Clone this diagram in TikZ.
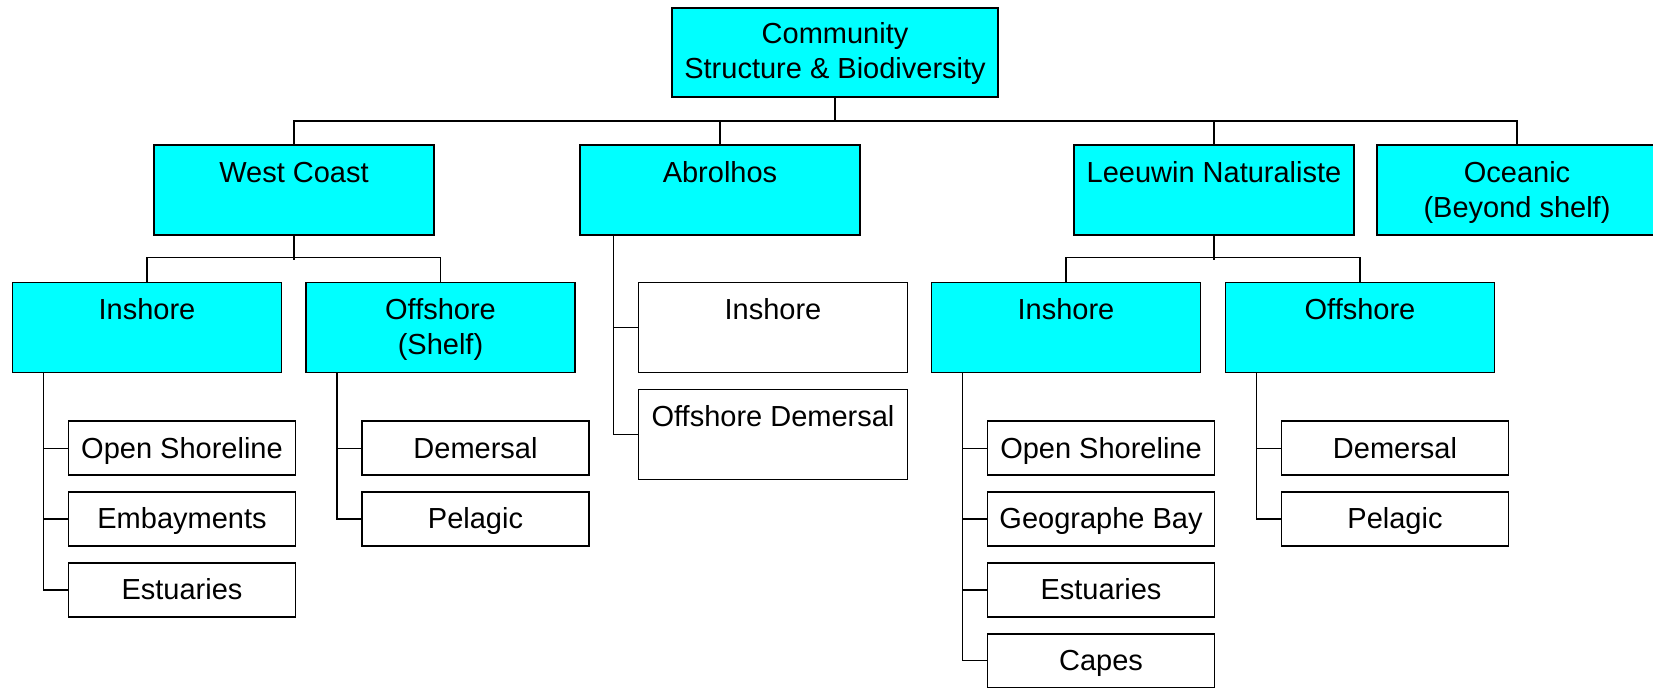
\documentclass[tikz,border=0pt]{standalone}
\usepackage{fontspec}
\setmainfont{Liberation Sans}
\usetikzlibrary{positioning}
\definecolor{aqua}{RGB}{0,255,255}

\tikzset{
  lvbox/.style={shape=rectangle, draw, line width=0.9pt, fill=aqua, inner sep=0pt,
    align=center, text height=18.7pt, text depth=26.3pt, font=\fontsize{14.5}{17.5}\selectfont},
  twoline/.style={text height=36.2pt, text depth=8.8pt},
  topbox/.style={lvbox, minimum width=163pt, text height=35.2pt, text depth=9.3pt},
  regbox/.style={lvbox, minimum width=140pt},
  subbox/.style={lvbox, minimum width=134.5pt},
  leaf/.style={shape=rectangle, draw, line width=0.9pt, fill=white, inner sep=0pt,
    minimum width=113.5pt, text height=18.4pt, text depth=8.6pt, font=\fontsize{14.5}{17.5}\selectfont},
  link/.style={line width=0.75pt},
}

\begin{document}
\begin{tikzpicture}[x=0.5pt, y=-0.5pt]
	\useasboundingbox (0,0) rectangle (1653,688);
	% create the nodes
	\node (root) [topbox] at (835,52.5) {Community\\Structure \& Biodiversity};
	\node (wc) [regbox] at (294,190) {West Coast};
	\node (ab) [regbox] at (720,190) {Abrolhos};
	\node (ln) [regbox] at (1214,190) {Leeuwin Naturaliste};
	\node (oce) [regbox, twoline] at (1517,190) {Oceanic\\(Beyond shelf)};

	\node (wcin) [subbox] at (147,327.5) {Inshore};
	\node (wcoff) [subbox, twoline] at (440.5,327.5) {Offshore\\(Shelf)};
	\node (abin) [subbox, fill=white] at (773,327.5) {Inshore};
	\node (aboff) [subbox, fill=white, below=7.6pt of abin] {Offshore Demersal};
	\node (lnin) [subbox] at (1066,327.5) {Inshore};
	\node (lnoff) [subbox] at (1360,327.5) {Offshore};

	\node (wci1) [leaf, below right=23.5pt and 28pt of wcin.south west] {Open Shoreline};
	\node (wci2) [leaf, below=7.5pt of wci1] {Embayments};
	\node (wci3) [leaf, below=7.5pt of wci2] {Estuaries};
	\node (wco1) [leaf, below right=23.5pt and 28pt of wcoff.south west] {Demersal};
	\node (wco2) [leaf, below=7.5pt of wco1] {Pelagic};
	\node (lni1) [leaf, below right=23.5pt and 28pt of lnin.south west] {Open Shoreline};
	\node (lni2) [leaf, below=7.5pt of lni1] {Geographe Bay};
	\node (lni3) [leaf, below=7.5pt of lni2] {Estuaries};
	\node (lni4) [leaf, below=7.5pt of lni3] {Capes};
	\node (lno1) [leaf, below right=23.5pt and 28pt of lnoff.south west] {Demersal};
	\node (lno2) [leaf, below=7.5pt of lno1] {Pelagic};

	% connect the nodes
	\coordinate (bus) at (0,121);
	\draw[link] (root.south) -- (root.south |- bus);
	\draw[link] (wc.north) |- (oce.north |- bus) -- (oce.north);
	\draw[link] (ab.north) -- (ab.north |- bus);
	\draw[link] (ln.north) -- (ln.north |- bus);

	\draw[link] (wc.south) -- ++(0,24);
	\draw[link] (wcin.north) -- ++(0,-24) -| (wcoff.north);
	\draw[link] (ln.south) -- ++(0,24);
	\draw[link] (lnin.north) -- ++(0,-24) -| (lnoff.north);

	\coordinate (wcil) at ([xshift=-12pt]wci1.west);
	\draw[link] (wcil |- wcin.south) |- (wci3.west);
	\draw[link] (wci1.west) -- ++(-12pt,0);
	\draw[link] (wci2.west) -- ++(-12pt,0);

	\coordinate (wcol) at ([xshift=-12pt]wco1.west);
	\draw[link] (wcol |- wcoff.south) |- (wco2.west);
	\draw[link] (wco1.west) -- ++(-12pt,0);

	\coordinate (abl) at ([xshift=-12pt]abin.west);
	\draw[link] (abl |- ab.south) |- (aboff.west);
	\draw[link] (abin.west) -- ++(-12pt,0);

	\coordinate (lnil) at ([xshift=-12pt]lni1.west);
	\draw[link] (lnil |- lnin.south) |- (lni4.west);
	\draw[link] (lni1.west) -- ++(-12pt,0);
	\draw[link] (lni2.west) -- ++(-12pt,0);
	\draw[link] (lni3.west) -- ++(-12pt,0);

	\coordinate (lnol) at ([xshift=-12pt]lno1.west);
	\draw[link] (lnol |- lnoff.south) |- (lno2.west);
	\draw[link] (lno1.west) -- ++(-12pt,0);
\end{tikzpicture}
\end{document}
